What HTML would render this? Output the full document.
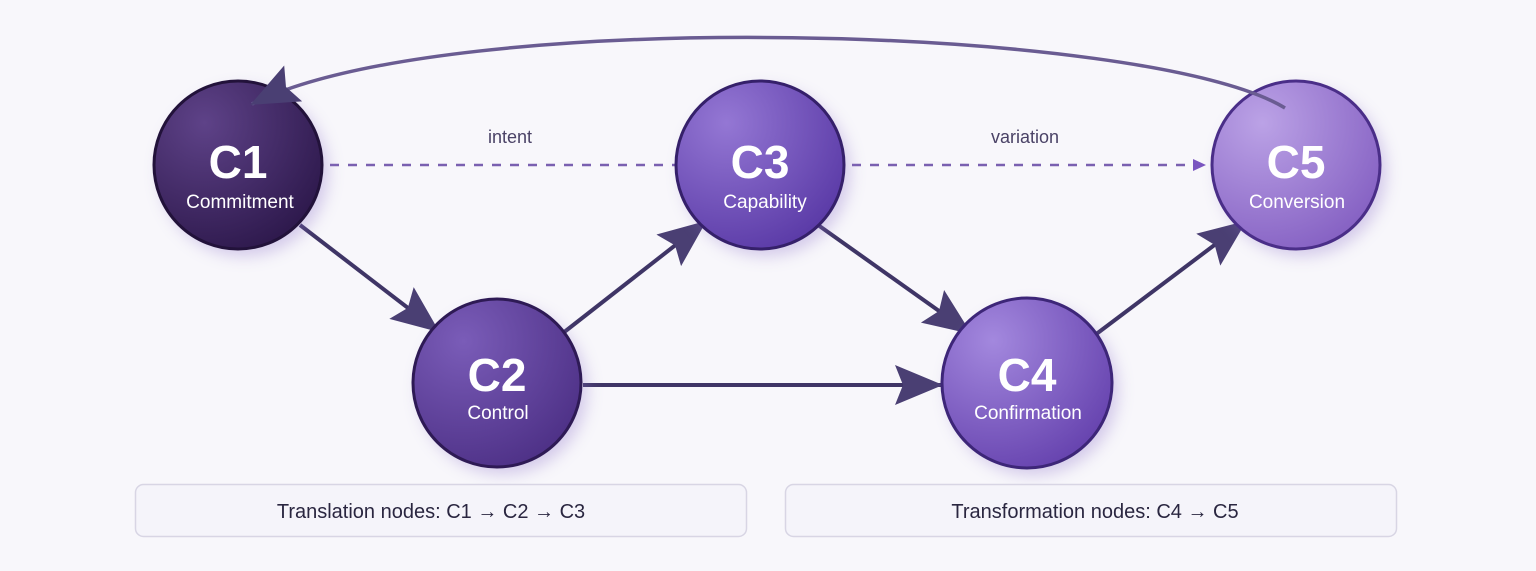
<!DOCTYPE html>
<html><head><meta charset="utf-8"><style>
html,body{margin:0;padding:0;background:#f8f7fb;}
body{width:1536px;height:566px;overflow:hidden;font-family:"Liberation Sans",sans-serif;}
</style></head><body>
<svg width="1536" height="566" viewBox="0 0 1536 566" xmlns="http://www.w3.org/2000/svg">
<defs>
<marker id="ah" markerUnits="userSpaceOnUse" markerWidth="50" markerHeight="44" refX="46" refY="20" orient="auto">
<path d="M0,0 L48,20 L0,40 L8,20 Z" fill="#4a3f73"/>
</marker>
<marker id="sm" markerUnits="userSpaceOnUse" markerWidth="14" markerHeight="14" refX="12" refY="6" orient="auto">
<path d="M0,0 L13,6 L0,12 Z" fill="#7a55c0"/>
</marker>
<radialGradient id="g1" cx="0.3" cy="0.25" r="0.8"><stop offset="0" stop-color="#5e4288"/><stop offset="1" stop-color="#2f1a4e"/></radialGradient>
<radialGradient id="g2" cx="0.3" cy="0.25" r="0.8"><stop offset="0" stop-color="#7a5cb8"/><stop offset="1" stop-color="#4f3288"/></radialGradient>
<radialGradient id="g3" cx="0.3" cy="0.25" r="0.8"><stop offset="0" stop-color="#9477d4"/><stop offset="1" stop-color="#5c3ca8"/></radialGradient>
<radialGradient id="g4" cx="0.3" cy="0.25" r="0.8"><stop offset="0" stop-color="#a388de"/><stop offset="1" stop-color="#6845b0"/></radialGradient>
<radialGradient id="g5" cx="0.3" cy="0.25" r="0.8"><stop offset="0" stop-color="#bba2e6"/><stop offset="1" stop-color="#8763c4"/></radialGradient>
<filter id="sh" x="-30%" y="-30%" width="160%" height="160%"><feGaussianBlur stdDeviation="8"/></filter>
</defs>

<!-- dashed -->
<line x1="330" y1="165" x2="675" y2="165" stroke="#7a60b0" stroke-width="2.5" stroke-dasharray="9,9"/>
<line x1="852" y1="165" x2="1205" y2="165" stroke="#7a60b0" stroke-width="2.5" stroke-dasharray="9,9" marker-end="url(#sm)"/>
<text x="510" y="143" font-size="18" fill="#4a4266" text-anchor="middle">intent</text>
<text x="1025" y="143" font-size="18" fill="#4a4266" text-anchor="middle">variation</text>

<!-- arrows -->
<g stroke="#3f3566" stroke-width="4" fill="none">
<line x1="300" y1="225" x2="438" y2="331" marker-end="url(#ah)"/>
<line x1="563" y1="333" x2="705" y2="222" marker-end="url(#ah)"/>
<line x1="583" y1="385" x2="941" y2="385" marker-end="url(#ah)"/>
<line x1="818" y1="225" x2="970" y2="333" marker-end="url(#ah)"/>
<line x1="1095" y1="335" x2="1245" y2="222" marker-end="url(#ah)"/>
</g>

<!-- nodes -->
<g font-family="Liberation Sans, sans-serif" text-anchor="middle" fill="#fff">
<circle cx="244" cy="172" r="84" fill="#8a70c8" opacity="0.35" filter="url(#sh)"/>
<circle cx="238" cy="165" r="84" fill="url(#g1)" stroke="#22123a" stroke-width="3"/>
<text x="238" y="178" font-size="46" font-weight="bold" fill="#fff">C1</text>
<text x="240" y="208" font-size="19" fill="#fff">Commitment</text>

<circle cx="503" cy="390" r="84" fill="#8a70c8" opacity="0.35" filter="url(#sh)"/>
<circle cx="497" cy="383" r="84" fill="url(#g2)" stroke="#2e1a55" stroke-width="3"/>
<text x="497" y="391" font-size="46" font-weight="bold" fill="#fff">C2</text>
<text x="498" y="419" font-size="19" fill="#fff">Control</text>

<circle cx="766" cy="172" r="84" fill="#8a70c8" opacity="0.35" filter="url(#sh)"/>
<circle cx="760" cy="165" r="84" fill="url(#g3)" stroke="#35206a" stroke-width="3"/>
<text x="760" y="178" font-size="46" font-weight="bold" fill="#fff">C3</text>
<text x="765" y="208" font-size="19" fill="#fff">Capability</text>

<circle cx="1033" cy="390" r="85" fill="#8a70c8" opacity="0.35" filter="url(#sh)"/>
<circle cx="1027" cy="383" r="85" fill="url(#g4)" stroke="#3d2678" stroke-width="3"/>
<text x="1027" y="391" font-size="46" font-weight="bold" fill="#fff">C4</text>
<text x="1028" y="419" font-size="19" fill="#fff">Confirmation</text>

<circle cx="1302" cy="172" r="84" fill="#8a70c8" opacity="0.35" filter="url(#sh)"/>
<circle cx="1296" cy="165" r="84" fill="url(#g5)" stroke="#4a2e88" stroke-width="3"/>
<text x="1296" y="178" font-size="46" font-weight="bold" fill="#fff">C5</text>
<text x="1297" y="208" font-size="19" fill="#fff">Conversion</text>
</g>

<!-- arc (drawn over nodes) -->
<path d="M1285,108 C1150,25 450,5 252,104" fill="none" stroke="#6a5c92" stroke-width="3.5" marker-end="url(#ah)"/>

<!-- boxes -->
<rect x="135.5" y="484.5" width="611" height="52" rx="8" fill="#f5f4fa" stroke="#d8d5e4" stroke-width="1.5"/>
<text x="431" y="518" font-size="20" fill="#2a2640" text-anchor="middle">Translation nodes: C1 → C2 → C3</text>
<rect x="785.5" y="484.5" width="611" height="52" rx="8" fill="#f5f4fa" stroke="#d8d5e4" stroke-width="1.5"/>
<text x="1095" y="518" font-size="20" fill="#2a2640" text-anchor="middle">Transformation nodes: C4 → C5</text>
</svg>
</body></html>
